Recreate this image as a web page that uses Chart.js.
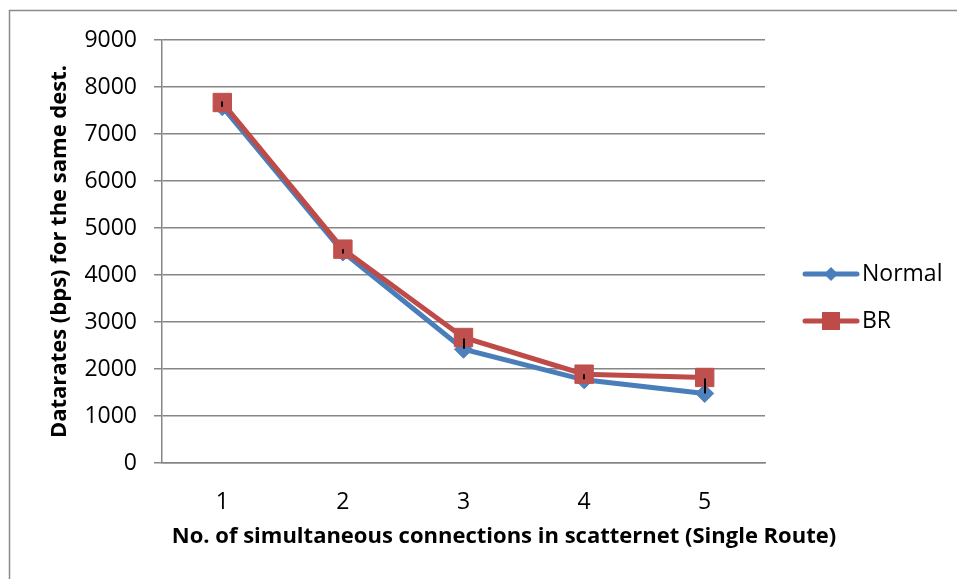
<!DOCTYPE html>
<html>
<head>
<meta charset="utf-8">
<script src="https://cdn.jsdelivr.net/npm/chart.js@4/dist/chart.umd.min.js"></script>
<style>
  html, body { margin: 0; padding: 0; background: #fff; }
  #wrap { width: 957px; height: 579px; }
</style>
</head>
<body>
<div id="wrap"><canvas id="rateChart" width="957" height="579"></canvas></div>
<script>
// connections per scatternet, datarate per series
const connections = ['1', '2', '3', '4', '5'];
const normalRates = [7580, 4490, 2420, 1770, 1480];
const brRates = [7670, 4550, 2670, 1890, 1820];
// black range marks drawn on top of each point
const rangeTop = [7690, 4550, 2650, 1890, 1800];
const rangeBottom = [7580, 4460, 2430, 1780, 1480];
const yTicks = [0, 1000, 2000, 3000, 4000, 5000, 6000, 7000, 8000, 9000];

const FONT = "'Open Sans', 'DejaVu Sans', sans-serif";
const BLUE = '#4A7EBB';
const RED = '#BE4B48';
const GRID = '#868686';

// outer frame behind everything
const framePlugin = {
    id: 'frame',
    beforeDraw(chart) {
        const ctx = chart.ctx;
        ctx.save();
        ctx.fillStyle = '#fff';
        ctx.fillRect(0, 0, chart.width, chart.height);
        ctx.strokeStyle = '#8a8a8a';
        ctx.lineWidth = 1.5;
        ctx.strokeRect(9.5, 10.5, chart.width + 20, chart.height + 20);
        ctx.restore();
    }
};

// small vertical range marks
const rangePlugin = {
    id: 'rangeMarks',
    afterDatasetsDraw(chart) {
        const x = chart.scales.x, y = chart.scales.y;
        const ctx = chart.ctx;
        ctx.save();
        ctx.strokeStyle = '#000';
        ctx.lineWidth = 2;
        rangeTop.forEach((top, i) => {
            const px = Math.round(x.getPixelForValue(i));
            ctx.beginPath();
            ctx.moveTo(px, y.getPixelForValue(top));
            ctx.lineTo(px, y.getPixelForValue(rangeBottom[i]));
            ctx.stroke();
        });
        ctx.restore();
    }
};

// x axis title and the legend on the right
const labelsPlugin = {
    id: 'sideLabels',
    afterDraw(chart) {
        const ctx = chart.ctx;
        ctx.save();
        ctx.fillStyle = '#000';
        ctx.font = 'bold 22px ' + FONT;
        ctx.textAlign = 'center';
        ctx.textBaseline = 'middle';
        ctx.fillText('No. of simultaneous connections in scatternet (Single Route)', 504, 537);

        const items = [
            { text: 'Normal', color: BLUE, shape: 'diamond', y: 274 },
            { text: 'BR', color: RED, shape: 'square', y: 321 }
        ];
        items.forEach(it => {
            ctx.strokeStyle = it.color;
            ctx.lineWidth = 5;
            ctx.lineCap = 'round';
            ctx.beginPath();
            ctx.moveTo(805, it.y);
            ctx.lineTo(857, it.y);
            ctx.stroke();
            ctx.fillStyle = it.color;
            ctx.beginPath();
            if (it.shape === 'diamond') {
                ctx.moveTo(831, it.y - 7);
                ctx.lineTo(838, it.y);
                ctx.lineTo(831, it.y + 7);
                ctx.lineTo(824, it.y);
            } else {
                ctx.rect(822, it.y - 9, 18, 18);
            }
            ctx.fill();
            ctx.fillStyle = '#000';
            ctx.font = '23px ' + FONT;
            ctx.textAlign = 'left';
            ctx.fillText(it.text, 862, it.y);
        });
        ctx.restore();
    }
};

const ctx = document.getElementById('rateChart').getContext('2d');
new Chart(ctx, {
    type: 'line',
    data: {
        labels: connections,
        datasets: [{
            label: 'Normal',
            data: normalRates,
            borderColor: BLUE,
            backgroundColor: '#4F81BD',
            borderWidth: 5,
            pointStyle: 'rectRot',
            pointRadius: 9,
            pointBorderWidth: 1,
            pointBorderColor: '#4F81BD',
            tension: 0,
            order: 2
        }, {
            label: 'BR',
            data: brRates,
            borderColor: RED,
            backgroundColor: '#C0504D',
            borderWidth: 5,
            pointStyle: 'rect',
            pointRadius: 13,
            pointBorderWidth: 1,
            pointBorderColor: '#C0504D',
            tension: 0,
            order: 1
        }]
    },
    options: {
        responsive: false,
        animation: false,
        devicePixelRatio: 1,
        layout: {
            padding: { left: 0, top: 40, right: 192, bottom: 0 }
        },
        plugins: {
            legend: { display: false },
            tooltip: { enabled: false }
        },
        scales: {
            x: {
                offset: true,
                grid: { display: false },
                border: { display: true, color: GRID, width: 1.5 },
                ticks: {
                    color: '#000',
                    font: { family: FONT, size: 23 },
                    padding: 18,
                    maxRotation: 0
                },
                afterFit: s => { s.height = 116; }
            },
            y: {
                min: 0,
                max: 9000,
                afterBuildTicks: s => { s.ticks = yTicks.map(v => ({ value: v })); },
                grid: {
                    color: GRID,
                    lineWidth: 1.5,
                    tickLength: 8
                },
                border: { display: true, color: GRID, width: 1.5 },
                ticks: {
                    color: '#000',
                    font: { family: FONT, size: 23 },
                    padding: 17,
                    callback: v => String(v)
                },
                title: {
                    display: true,
                    text: 'Datarates (bps) for the same dest.',
                    color: '#000',
                    font: { family: FONT, size: 22, weight: 'bold' },
                    padding: { top: 47, bottom: 0 }
                },
                afterFit: s => { s.width = 162; }
            }
        }
    },
    plugins: [framePlugin, rangePlugin, labelsPlugin]
});
</script>
</body>
</html>
